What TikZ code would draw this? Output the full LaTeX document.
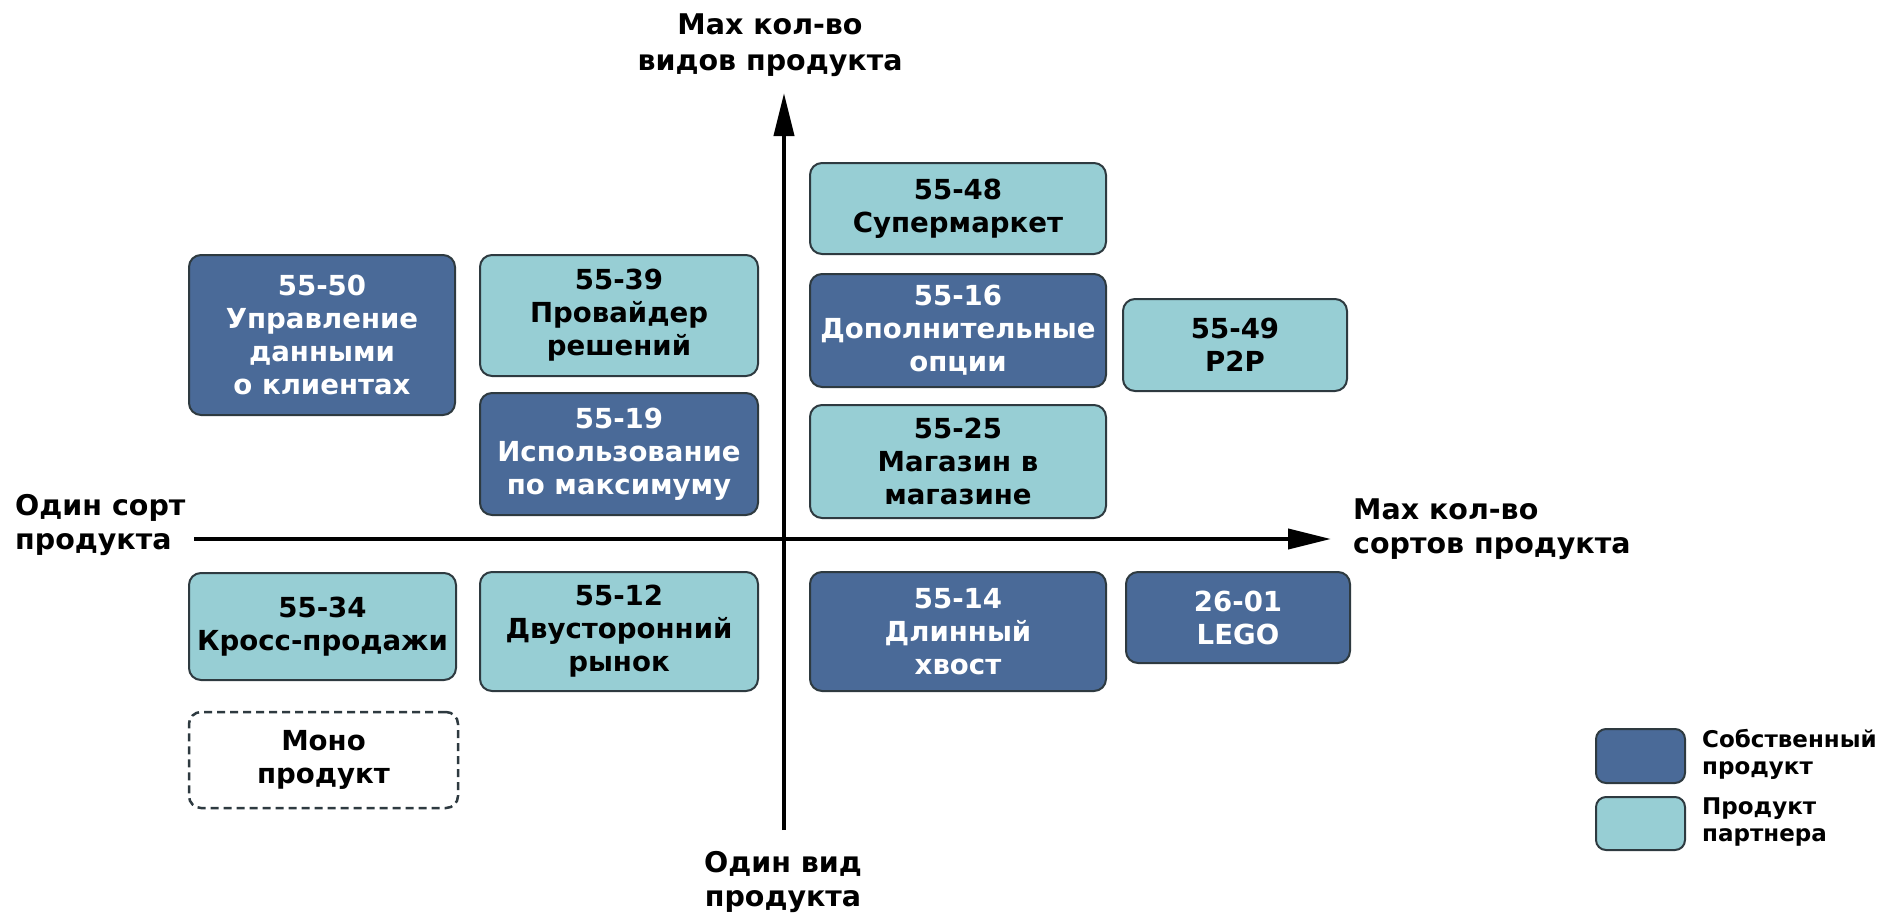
\documentclass[tikz,border=0pt]{standalone}
\usepackage{fontspec}
\setmainfont{DejaVu Sans}
\usetikzlibrary{arrows.meta}
\definecolor{owncol}{HTML}{4A6A98}
\definecolor{partcol}{HTML}{97CED4}
\definecolor{edgecol}{HTML}{2E3A40}
\begin{document}
\begin{tikzpicture}[x=1pt,y=-1pt,
  box/.style={draw=edgecol,line width=2pt,rounded corners=12pt,align=center,
    inner sep=0pt,font=\fontsize{27.6}{33}\selectfont\bfseries},
  own/.style={box,fill=owncol,text=white},
  part/.style={box,fill=partcol,text=black},
  monobox/.style={box,fill=white,dashed,dash pattern=on 8pt off 5pt,line width=2.5pt},
  legbox/.style={draw=edgecol,line width=2pt,rounded corners=10pt,
    minimum width=89pt,minimum height=54pt,inner sep=0pt},
  legtext/.style={anchor=west,align=left,inner sep=0pt,font=\fontsize{23}{27}\selectfont\bfseries},
  axlabel/.style={align=center,inner sep=0pt,font=\fontsize{28.5}{34}\selectfont\bfseries},
  axis/.style={line width=4pt,-{Triangle[length=43pt,width=20pt]}}]
\useasboundingbox (0,0) rectangle (1877,916);

% axes
\coordinate (vbot) at (784,830);
\coordinate (vtop) at (784,93);
\coordinate (hleft) at (194,539);
\coordinate (hright) at (1331,539);
\draw[axis] (vbot) -- (vtop);
\draw[axis] (hleft) -- (hright);

% axis labels
\node[axlabel,font=\fontsize{28.5}{36}\selectfont\bfseries] (ltop) at (770,45) {Max кол-во\\видов продукта};
\node[axlabel] (lbot) at (783,882) {Один вид\\продукта};
\node[axlabel,anchor=west,align=left] (lleft) at (15,525) {Один сорт\\продукта};
\node[axlabel,anchor=west,align=left] (lright) at (1353,529) {Max кол-во\\сортов продукта};

% upper left quadrant
\node[own,minimum width=266pt,minimum height=160pt] (b5550) at (322,335) {55-50\\Управление\\данными\\о клиентах};
\node[part,minimum width=278pt,minimum height=121pt] (b5539) at (619,315.5) {55-39\\Провайдер\\решений};
\node[own,minimum width=278pt,minimum height=122pt] (b5519) at (619,454) {55-19\\Использование\\по максимуму};

% upper right quadrant
\node[part,minimum width=296pt,minimum height=91pt] (b5548) at (958,208.5) {55-48\\Супермаркет};
\node[own,minimum width=296pt,minimum height=113pt] (b5516) at (958,330.5) {55-16\\Дополнительные\\опции};
\node[part,minimum width=224pt,minimum height=92pt] (b5549) at (1235,345) {55-49\\P2P};
\node[part,minimum width=296pt,minimum height=113pt] (b5525) at (958,461.5) {55-25\\Магазин в\\магазине};

% lower quadrants
\node[part,minimum width=267pt,minimum height=107pt] (b5534) at (322.5,626.5) {55-34\\Кросс-продажи};
\node[part,minimum width=278pt,minimum height=119pt] (b5512) at (619,631.5) {55-12\\Двусторонний\\рынок};
\node[own,minimum width=296pt,minimum height=119pt] (b5514) at (958,631.5) {55-14\\Длинный\\хвост};
\node[own,minimum width=224pt,minimum height=91pt] (b2601) at (1238,617.5) {26-01\\LEGO};
\node[monobox,minimum width=269pt,minimum height=96pt] (mono) at (323.5,760) {Моно\\продукт};

% legend
\node[legbox,fill=owncol] (legown) at (1640.5,756) {};
\node[legbox,fill=partcol,minimum height=53pt] (legpart) at (1640.5,823.5) {};
\node[legtext] (legowntext) at (1702,754) {Собственный\\продукт};
\node[legtext] (legparttext) at (1702,822) {Продукт\\партнера};
\end{tikzpicture}
\end{document}
